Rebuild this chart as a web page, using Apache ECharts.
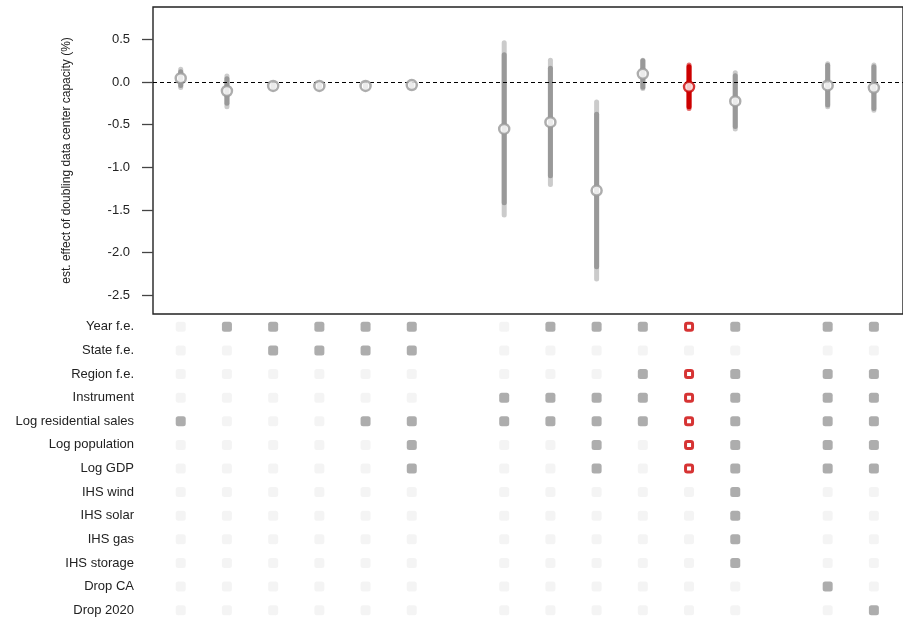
<!DOCTYPE html>
<html>
<head>
<meta charset="utf-8">
<script src="https://cdn.jsdelivr.net/npm/echarts@6/dist/echarts.min.js"></script>
<style>
html,body{margin:0;padding:0;background:#fff;}
#chart{width:903px;height:622px;}
</style>
</head>
<body>
<div id="chart"></div>
<script>
// ---- data ----
// horizontal slot of each specification (gaps between groups)
const specSlot = [0, 1, 2, 3, 4, 5, 7, 8, 9, 10, 11, 12, 14, 15];
const estimate = [0.045, -0.105, -0.045, -0.045, -0.045, -0.036, -0.55, -0.47, -1.273, 0.096, -0.056, -0.224, -0.04, -0.068];
const ciOuterLo = [-0.065, -0.29, -0.07, -0.07, -0.07, -0.06, -1.56, -1.20, -2.31, -0.075, -0.31, -0.55, -0.29, -0.33];
const ciOuterHi = [0.15, 0.07, -0.02, -0.02, -0.02, -0.012, 0.46, 0.255, -0.235, 0.255, 0.20, 0.11, 0.215, 0.20];
const ciInnerLo = [-0.04, -0.25, -0.06, -0.06, -0.06, -0.05, -1.414, -1.10, -2.165, -0.06, -0.29, -0.52, -0.27, -0.31];
const ciInnerHi = [0.12, 0.04, -0.03, -0.03, -0.03, -0.02, 0.32, 0.163, -0.377, 0.25, 0.18, 0.073, 0.198, 0.18];
const preferredSpec = 10;
const yTickValues = [0.5, 0.0, -0.5, -1.0, -1.5, -2.0, -2.5];

const rowLabels = ['Year f.e.', 'State f.e.', 'Region f.e.', 'Instrument', 'Log residential sales',
  'Log population', 'Log GDP', 'IHS wind', 'IHS solar', 'IHS gas', 'IHS storage', 'Drop CA', 'Drop 2020'];
const yearFE     = [0, 1, 1, 1, 1, 1, 0, 1, 1, 1, 1, 1, 1, 1];
const stateFE    = [0, 0, 1, 1, 1, 1, 0, 0, 0, 0, 0, 0, 0, 0];
const regionFE   = [0, 0, 0, 0, 0, 0, 0, 0, 0, 1, 1, 1, 1, 1];
const instrument = [0, 0, 0, 0, 0, 0, 1, 1, 1, 1, 1, 1, 1, 1];
const logResSales= [1, 0, 0, 0, 1, 1, 1, 1, 1, 1, 1, 1, 1, 1];
const logPop     = [0, 0, 0, 0, 0, 1, 0, 0, 1, 0, 1, 1, 1, 1];
const logGDP     = [0, 0, 0, 0, 0, 1, 0, 0, 1, 0, 1, 1, 1, 1];
const ihsWind    = [0, 0, 0, 0, 0, 0, 0, 0, 0, 0, 0, 1, 0, 0];
const ihsSolar   = [0, 0, 0, 0, 0, 0, 0, 0, 0, 0, 0, 1, 0, 0];
const ihsGas     = [0, 0, 0, 0, 0, 0, 0, 0, 0, 0, 0, 1, 0, 0];
const ihsStorage = [0, 0, 0, 0, 0, 0, 0, 0, 0, 0, 0, 1, 0, 0];
const dropCA     = [0, 0, 0, 0, 0, 0, 0, 0, 0, 0, 0, 0, 1, 0];
const drop2020   = [0, 0, 0, 0, 0, 0, 0, 0, 0, 0, 0, 0, 0, 1];
const indicatorRows = [yearFE, stateFE, regionFE, instrument, logResSales, logPop, logGDP,
  ihsWind, ihsSolar, ihsGas, ihsStorage, dropCA, drop2020];

// ---- styles ----
const GRAY = '#999999', GRAY_LIGHT = '#cbcbcb', RED = '#cc0000', RED_LIGHT = '#e46a6a', OFF = '#f1f1f1';
const FONT = "'Liberation Sans', Arial, sans-serif";

const ciOuter = specSlot.map((s, i) => [s, ciOuterLo[i], ciOuterHi[i], i]);
const ciInner = specSlot.map((s, i) => [s, ciInnerLo[i], ciInnerHi[i], i]);
function ciRender(light) {
  return function (params, api) {
    const a = api.coord([api.value(0), api.value(1)]);
    const b = api.coord([api.value(0), api.value(2)]);
    const red = api.value(3) === preferredSpec;
    return {
      type: 'line',
      shape: { x1: a[0], y1: a[1], x2: b[0], y2: b[1] },
      style: { stroke: red ? (light ? RED_LIGHT : RED) : (light ? GRAY_LIGHT : GRAY), lineWidth: 5, lineCap: 'round' }
    };
  };
}
const pointData = specSlot.map((s, i) => ({
  value: [s, estimate[i]],
  itemStyle: { color: '#fff', borderColor: i === preferredSpec ? RED : GRAY, borderWidth: 2.5 }
}));

const matrixData = [];
indicatorRows.forEach((row, r) => {
  row.forEach((on, i) => {
    let style, size = 10;
    if (on && i === preferredSpec) {
      style = { color: '#fff', borderColor: RED, borderWidth: 3 };
      size = 7;
    } else {
      style = { color: on ? GRAY : OFF };
    }
    matrixData.push({ value: [specSlot[i], r], symbolSize: size, itemStyle: style });
  });
});

const chart = echarts.init(document.getElementById('chart'), null, { renderer: 'canvas' });
chart.setOption({
  animation: false,
  backgroundColor: '#fff',
  textStyle: { fontFamily: FONT },
  grid: [
    { left: 153, right: -2, top: 7, height: 307, show: true, borderColor: '#222', borderWidth: 1.4, backgroundColor: 'transparent' },
    { left: 153, right: -2, top: 315, height: 307 }
  ],
  xAxis: [
    { gridIndex: 0, type: 'value', min: -0.6, max: 15.63, show: false },
    { gridIndex: 1, type: 'value', min: -0.6, max: 15.63, show: false }
  ],
  yAxis: [
    {
      gridIndex: 0, type: 'value', min: -2.72, max: 0.88,
      name: 'est. effect of doubling data center capacity (%)',
      nameLocation: 'middle', nameGap: 80,
      nameTextStyle: { fontSize: 12, color: '#222', fontFamily: FONT },
      axisLine: { show: false, onZero: false },
      axisTick: { show: true, inside: false, length: 11, customValues: yTickValues, lineStyle: { color: '#444', width: 1.3 } },
      axisLabel: { customValues: yTickValues, margin: 23, fontSize: 13, color: '#222', fontFamily: FONT,
        formatter: v => v.toFixed(1) },
      splitLine: { show: false }
    },
    {
      gridIndex: 1, type: 'category', data: rowLabels, inverse: true,
      axisLine: { show: false, onZero: false }, axisTick: { show: false }, splitLine: { show: false },
      axisLabel: { margin: 19, fontSize: 13, color: '#222', fontFamily: FONT }
    }
  ],
  series: [
    {
      type: 'line', xAxisIndex: 0, yAxisIndex: 0, data: [], silent: true,
      markLine: {
        symbol: 'none', silent: true, label: { show: false },
        lineStyle: { color: '#000', width: 1, type: [4, 3] },
        data: [{ yAxis: 0 }]
      }
    },
    { type: 'custom', xAxisIndex: 0, yAxisIndex: 0, data: ciOuter, renderItem: ciRender(true), z: 3 },
    { type: 'custom', xAxisIndex: 0, yAxisIndex: 0, data: ciInner, renderItem: ciRender(false), z: 4 },
    { type: 'scatter', xAxisIndex: 0, yAxisIndex: 0, data: pointData, symbol: 'circle', symbolSize: 10, z: 5 },
    { type: 'scatter', xAxisIndex: 1, yAxisIndex: 1, data: matrixData, symbol: 'roundRect', z: 5 }
  ]
});
</script>
</body>
</html>
